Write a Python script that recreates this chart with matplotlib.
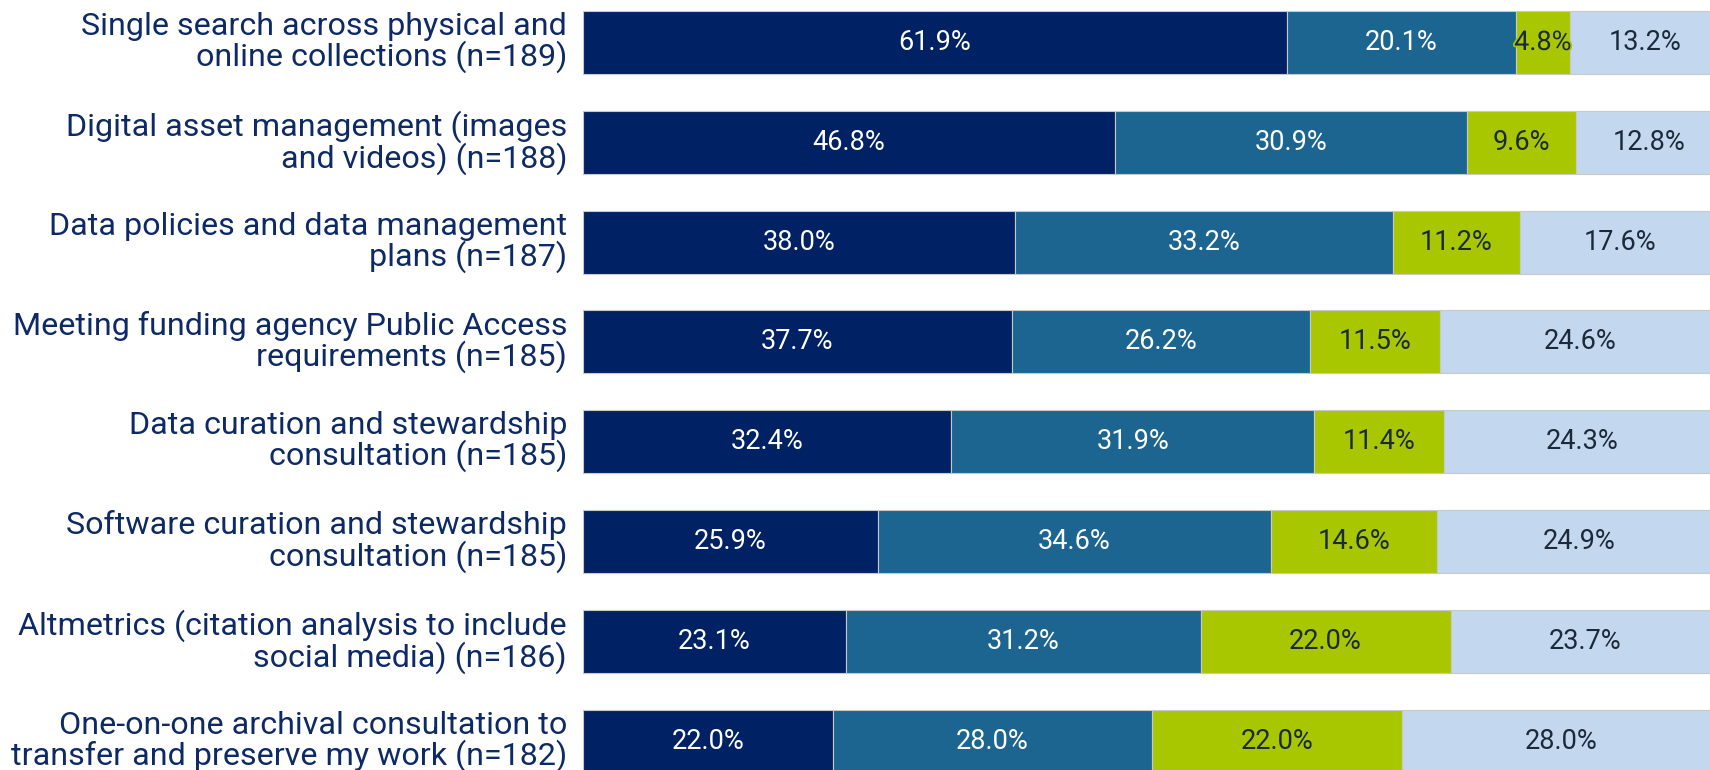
import numpy as np
import matplotlib
matplotlib.use("Agg")
import matplotlib.pyplot as plt
import matplotlib.patheffects as pe

# Categories (top to bottom)
labels = [
    "Single search across physical and\nonline collections (n=189)",
    "Digital asset management (images\nand videos) (n=188)",
    "Data policies and data management\nplans (n=187)",
    "Meeting funding agency Public Access\nrequirements (n=185)",
    "Data curation and stewardship\nconsultation (n=185)",
    "Software curation and stewardship\nconsultation (n=185)",
    "Altmetrics (citation analysis to include\nsocial media) (n=186)",
    "One-on-one archival consultation to\ntransfer and preserve my work (n=182)",
]

# Segment values, one list per series
seg1 = [61.9, 46.8, 38.0, 37.7, 32.4, 25.9, 23.1, 22.0]
seg2 = [20.1, 30.9, 33.2, 26.2, 31.9, 34.6, 31.2, 28.0]
seg3 = [4.8, 9.6, 11.2, 11.5, 11.4, 14.6, 22.0, 22.0]
seg4 = [13.2, 12.8, 17.6, 24.6, 24.3, 24.9, 23.7, 28.0]

series = [seg1, seg2, seg3, seg4]
colors = ["#002163", "#1c6590", "#a9c700", "#c3d7ee"]
text_colors = ["white", "white", "#1b2a3a", "#1b2a3a"]

fig = plt.figure(figsize=(17.1, 7.7), dpi=100)
ax = fig.add_axes([583 / 1710, 0, 1 - 583 / 1710, 1])

y = np.arange(len(labels))
left = np.zeros(len(labels))
for vals, col, tcol in zip(series, colors, text_colors):
    vals = np.array(vals)
    ax.barh(y, vals, left=left, height=0.63, color=col,
            edgecolor="#c8c8c8", linewidth=0.8)
    for yi, l, v in zip(y, left, vals):
        t = ax.text(l + v / 2, yi, f"{v:.1f}%", ha="center", va="center",
                    color=tcol, fontsize=19.5, family="Roboto")
        if v < 6:
            t.set_path_effects([pe.withStroke(linewidth=2.5, foreground=col)])
    left = left + vals

ax.set_xlim(0, 99.1)
ax.set_ylim(7.29, -0.426)
ax.axis("off")

for yi, lab in zip(y, labels):
    ax.text(-1.4, yi, lab, ha="right", va="center", color="#0d2a66",
            fontsize=23.2, family="Roboto", linespacing=0.98)

fig.savefig("out.png", dpi=100)
